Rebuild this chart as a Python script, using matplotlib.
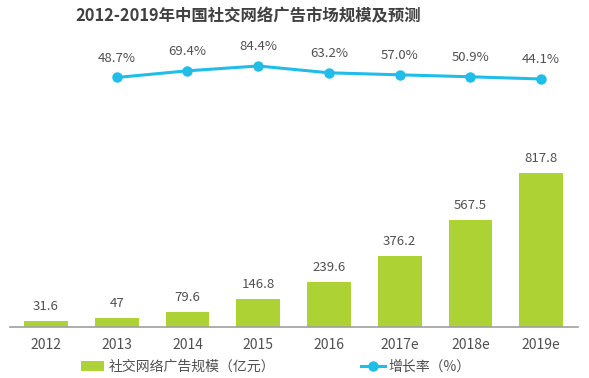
import matplotlib.pyplot as plt
from matplotlib.lines import Line2D
from matplotlib.patches import Patch

plt.rcParams['font.family'] = ['Noto Sans CJK SC', 'DejaVu Sans']

years = ['2012', '2013', '2014', '2015', '2016', '2017e', '2018e', '2019e']
scale = [31.6, 47, 79.6, 146.8, 239.6, 376.2, 567.5, 817.8]
scale_labels = ['31.6', '47', '79.6', '146.8', '239.6', '376.2', '567.5', '817.8']
growth = [48.7, 69.4, 84.4, 63.2, 57.0, 50.9, 44.1]  # from 2013

green = '#add234'
cyan = '#1fbde8'
txt = '#505050'

W, H = 589, 378
fig = plt.figure(figsize=(W / 100, H / 100), dpi=100)
ax = fig.add_axes([10 / W, (H - 327) / H, 568 / W, 287 / H])

x = list(range(len(years)))
ax.bar(x, scale, width=0.62, color=green, zorder=2)
for i, (v, s) in enumerate(zip(scale, scale_labels)):
    ax.annotate(s, (i, v), xytext=(0, 6), textcoords='offset points',
                ha='center', va='bottom', fontsize=9.5, color=txt)

ax.set_xlim(-0.509, 7.52)
ax.set_ylim(0, 1524)
ax.set_yticks([])
ax.set_xticks(x)
ax.set_xticklabels(years, fontsize=10, color=txt)
ax.tick_params(axis='x', length=0, pad=8)
for s in ['top', 'right', 'left']:
    ax.spines[s].set_visible(False)
ax.spines['bottom'].set_color('#a0a0a0')
ax.spines['bottom'].set_linewidth(1.2)

ax2 = ax.twinx()
ax2.plot(x[1:], growth, color=cyan, lw=2.2, marker='o', ms=6.5, zorder=3)
for i, g in zip(x[1:], growth):
    ax2.annotate(f'{g:.1f}%', (i, g), xytext=(0, 9), textcoords='offset points',
                 ha='center', va='bottom', fontsize=9.5, color=txt)
ax2.set_ylim(-724.7, 164.9)
ax2.set_yticks([])
for s in ax2.spines.values():
    s.set_visible(False)

fig.text(248 / W, 1 - 16 / H, '2012-2019年中国社交网络广告市场规模及预测',
         ha='center', va='center', fontsize=11.8, fontweight='bold', color='#404040')

handles = [Patch(facecolor=green, edgecolor='none'),
           Line2D([], [], color=cyan, lw=2.2, marker='o', ms=6.5)]
labels = ['社交网络广告规模（亿元）', '增长率（%）']
fig.legend(handles, labels, loc='center', bbox_to_anchor=(0.468, 1 - 367 / H),
           ncol=2, frameon=False, fontsize=10, labelcolor=txt,
           handlelength=1.7, handletextpad=0.3, columnspacing=6.2)

fig.savefig('out.png', dpi=100)
